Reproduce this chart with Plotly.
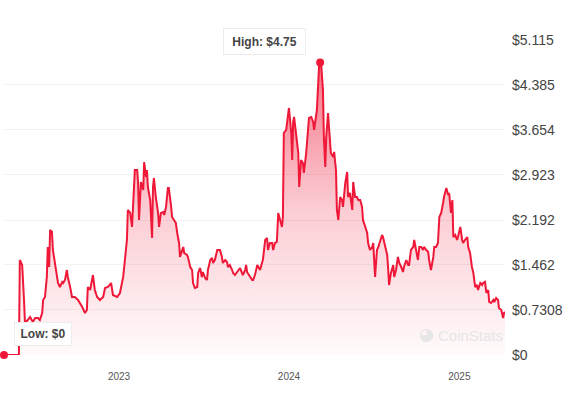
import pandas as pd
import plotly.graph_objects as go

# Days since 2023-01-01 and price (USD)
day_offsets = [
    -247, -215, -213, -208, -204, -202, -196, -191, -185, -180, -174, -170, -165, -163, -159, -155,
    -153, -150, -148, -144, -142, -138, -133, -131, -127, -122, -120, -116, -112, -110, -105, -101,
    -95, -88, -79, -73, -69, -67, -62, -56, -52, -47, -41, -34, -30, -24, -17, -13, -4, 2, 9, 15,
    17, 19, 24, 28, 30, 34, 39, 41, 43, 47, 52, 54, 58, 60, 62, 67, 71, 73, 75, 79, 84, 86, 90, 95,
    97, 101, 105, 107, 112, 114, 118, 122, 125, 129, 131, 135, 138, 140, 146, 148, 153, 157, 159,
    163, 168, 170, 174, 178, 180, 185, 189, 191, 196, 200, 202, 206, 211, 213, 217, 221, 223, 228,
    232, 234, 238, 243, 245, 249, 254, 256, 260, 264, 266, 271, 273, 275, 279, 286, 288, 292, 297,
    299, 303, 307, 309, 314, 318, 320, 324, 329, 331, 335, 339, 342, 346, 350, 352, 354, 359, 361,
    365, 370, 372, 374, 376, 380, 385, 387, 391, 395, 397, 402, 406, 408, 413, 417, 419, 423, 425,
    430, 432, 434, 438, 440, 443, 445, 449, 451, 455, 460, 462, 466, 468, 471, 475, 479, 481, 486,
    490, 492, 496, 501, 503, 507, 511, 514, 518, 522, 524, 529, 533, 535, 539, 544, 546, 550, 554,
    557, 561, 565, 567, 572, 576, 578, 580, 584, 589, 591, 595, 599, 602, 606, 610, 612, 617, 621,
    623, 627, 632, 634, 638, 642, 645, 649, 653, 655, 660, 664, 666, 670, 675, 677, 681, 685, 688,
    692, 696, 698, 703, 707, 709, 713, 716, 718, 722, 726, 728, 733, 737, 739, 743, 748, 750, 754,
    758, 761, 765, 769, 771, 776, 780, 782, 786, 789, 793, 795, 799, 804, 806, 810, 814, 816, 821,
    825, 827, 829,
]
prices = [
    0.0, 0.0, 1.543, 1.462, 0.893, 0.520, 0.568, 0.617, 0.536, 0.601, 0.601, 0.568, 0.682, 0.893, 0.942, 1.267,
    1.754, 1.429, 2.030, 1.998, 1.705, 1.494, 1.267, 1.169, 1.104, 1.186, 1.169, 1.218, 1.380, 1.267, 1.104, 0.942,
    0.942, 0.893, 0.780, 0.682, 0.731, 1.104, 1.056, 1.299, 1.056, 0.942, 0.893, 0.942, 1.088, 1.104, 1.169, 0.974, 0.942, 1.007, 1.267, 1.705,
    1.868, 2.355, 2.306, 2.079, 2.322, 3.004, 3.004, 2.793, 2.192, 2.810, 2.680, 3.134, 2.891, 3.004, 2.728, 2.517, 1.900, 2.728, 2.874, 2.566, 2.306, 2.079, 2.306, 2.322,
    2.274, 2.404, 2.712, 2.712, 2.404, 2.241, 2.192, 2.144, 1.981, 1.819, 1.592, 1.705, 1.754, 1.656, 1.624, 1.592, 1.429, 1.380, 1.169,
    1.088, 1.104, 1.332, 1.413, 1.267, 1.348, 1.250, 1.218, 1.380, 1.543, 1.575, 1.494, 1.543, 1.705, 1.705, 1.705, 1.592, 1.494, 1.543,
    1.510, 1.429, 1.462, 1.380, 1.332, 1.299, 1.348, 1.380, 1.413, 1.332, 1.299, 1.380, 1.462, 1.348, 1.299, 1.218, 1.218, 1.299, 1.462,
    1.429, 1.380, 1.494, 1.543, 1.868, 1.900, 1.705, 1.819, 1.819, 1.705, 1.819, 1.835, 2.306, 2.192, 2.079, 2.241, 3.605, 3.654, 3.816,
    4.011, 3.605, 3.167, 3.784, 3.865, 3.605, 3.280, 2.728, 3.167, 3.118, 2.956, 3.280, 3.605, 3.849, 3.865, 3.784, 3.654, 3.930, 3.979,
    4.742, 4.750, 4.742, 4.304, 3.540, 3.053, 3.540, 3.930, 3.703, 3.280, 3.216, 3.297, 3.004, 2.355, 2.192, 2.566, 2.517, 2.404, 2.793,
    2.972, 2.566, 2.631, 2.355, 2.810, 2.566, 2.566, 2.517, 2.517, 2.404, 2.192, 2.079, 1.981, 1.819, 1.705, 1.754, 1.819, 1.267, 1.705,
    1.754, 1.835, 1.949, 1.916, 1.738, 1.624, 1.413, 1.137, 1.332, 1.462, 1.267, 1.380, 1.592, 1.494, 1.429, 1.348, 1.429, 1.543, 1.462,
    1.462, 1.705, 1.754, 1.868, 1.705, 1.543, 1.754, 1.754, 1.705, 1.754, 1.705, 1.673, 1.543, 1.380, 1.592, 1.754, 1.754, 1.819, 2.241,
    2.306, 2.468, 2.566, 2.712, 2.598, 2.631, 2.306, 2.517, 1.916, 1.949, 1.868, 1.916, 2.079, 1.868, 1.819, 1.868, 1.916, 1.754, 1.656,
    1.429, 1.332, 1.104, 1.137, 1.056, 1.169, 1.137, 1.169, 1.186, 1.007, 1.056, 0.861, 0.844, 0.893, 0.861, 0.926, 0.893, 0.763, 0.731,
    0.601, 0.682, 0.698,
]

y_tick_values = [0, 0.7308, 1.462, 2.192, 2.923, 3.654, 4.385, 5.115]
y_tick_labels = ["$0", "$0.7308", "$1.462", "$2.192", "$2.923", "$3.654", "$4.385", "$5.115"]

high_label = "High: $4.75"
low_label = "Low: $0"

LINE = "#ef1838"
origin = pd.Timestamp("2023-01-01")
dates = [origin + pd.Timedelta(days=d) for d in day_offsets]

hi_i = prices.index(max(prices))
lo_i = prices.index(min(prices))

fig = go.Figure()
fig.add_trace(go.Scatter(
    x=dates, y=prices, mode="lines",
    line=dict(color=LINE, width=2),
    fill="tozeroy",
    fillgradient=dict(
        type="vertical",
        start=0, stop=max(prices),
        colorscale=[[0, "rgba(239,24,56,0.02)"], [0.5, "rgba(239,24,56,0.22)"], [1, "rgba(239,24,56,0.6)"]],
    ),
    hoverinfo="skip", showlegend=False,
))
fig.add_trace(go.Scatter(
    x=[dates[hi_i], dates[lo_i]], y=[prices[hi_i], prices[lo_i]],
    mode="markers", marker=dict(color=LINE, size=8),
    cliponaxis=False, showlegend=False, hoverinfo="skip",
))

box = dict(showarrow=False, bgcolor="white", bordercolor="#ececec", borderwidth=1,
           font=dict(family="Liberation Sans, Arial", size=12, color="#444444", weight=600))
fig.add_annotation(x=dates[hi_i], y=prices[hi_i], text=high_label, xshift=-56, yshift=21,
                   width=79, height=23, **box)
fig.add_annotation(x=dates[lo_i], y=prices[lo_i], text=low_label, xshift=39, yshift=21,
                   width=54, height=20, **box)

# watermark
fig.add_annotation(xref="paper", yref="paper", x=0.862, y=0.03, text="◕", showarrow=False,
                   font=dict(size=17, color="#e6e6e6", family="DejaVu Sans"))
fig.add_annotation(xref="paper", yref="paper", x=1.0, y=0.03, xanchor="right", text="CoinStats",
                   showarrow=False, font=dict(size=15, color="#e6e6e6", family="Liberation Sans, Arial"))

fig.update_layout(
    width=568, height=394,
    margin=dict(l=4, r=63, t=40, b=39),
    paper_bgcolor="white", plot_bgcolor="white",
    hovermode=False,
    xaxis=dict(
        range=[dates[0], dates[-1]],
        showgrid=False, zeroline=False, showline=False,
        dtick="M12", tickformat="%Y", ticks="",
        tickfont=dict(family="Liberation Sans, Arial", size=10, color="#555555"),
        ticklabelstandoff=14,
    ),
    yaxis=dict(
        side="right", range=[0, 5.115],
        tickvals=y_tick_values, ticktext=y_tick_labels,
        showgrid=True, gridcolor="#f2f2f2", gridwidth=1,
        zeroline=False, showline=False, ticks="",
        tickfont=dict(family="Liberation Sans, Arial", size=14, color="#444444"),
        ticklabelstandoff=6,
    ),
)

fig.write_html("out.html", config={"displayModeBar": False},
               post_script="document.body.style.margin='0';document.body.style.overflow='hidden';")
